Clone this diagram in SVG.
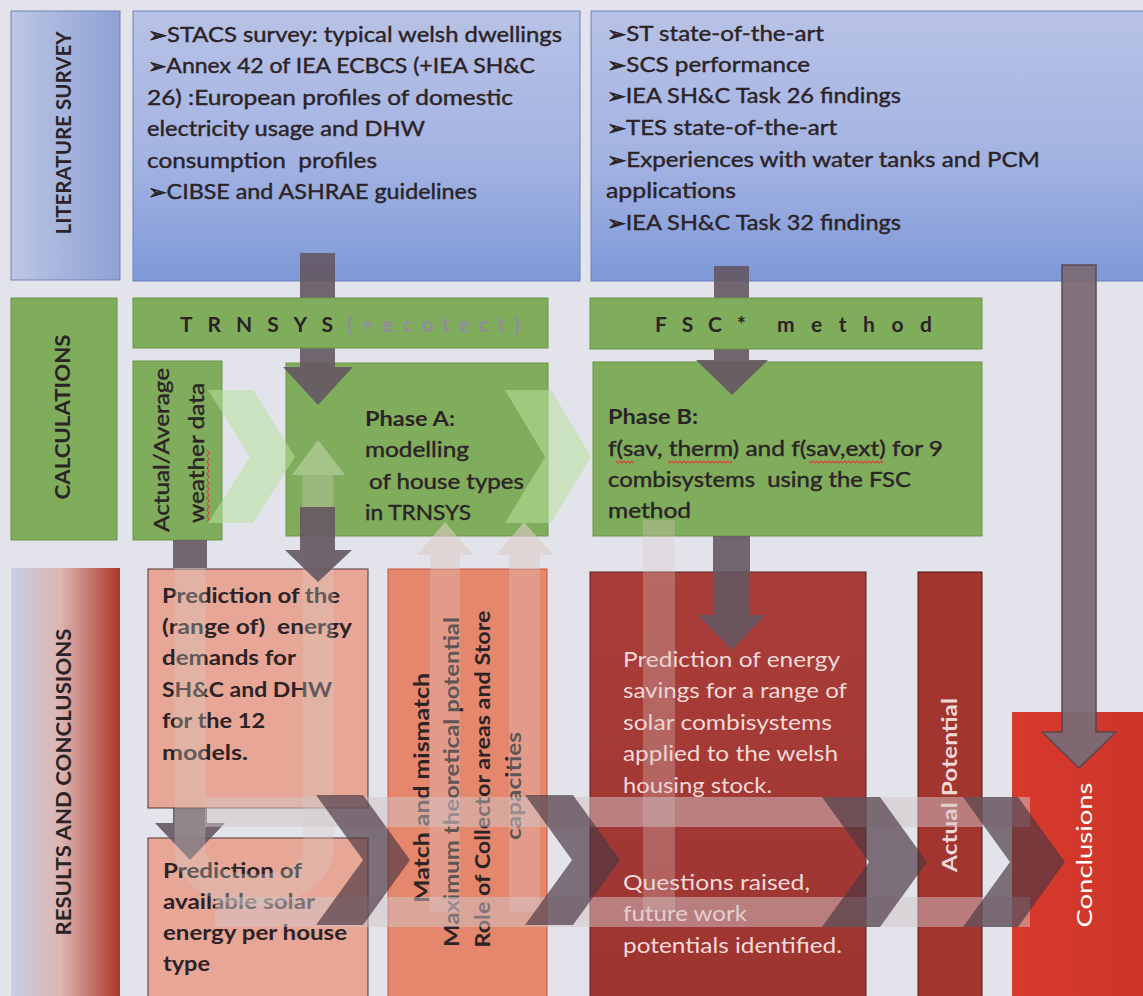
<svg xmlns="http://www.w3.org/2000/svg" width="1143" height="996" viewBox="0 0 1143 996">
<defs>
  <linearGradient id="gLitLabel" x1="0" y1="0" x2="1" y2="0">
    <stop offset="0" stop-color="#bdc6e3"/>
    <stop offset="1" stop-color="#8ea2d6"/>
  </linearGradient>
  <linearGradient id="gLit" x1="0" y1="0" x2="0" y2="1">
    <stop offset="0" stop-color="#b8c2e6"/>
    <stop offset="0.55" stop-color="#a3b3e2"/>
    <stop offset="1" stop-color="#7e99d8"/>
  </linearGradient>
  <linearGradient id="gRes" x1="0" y1="0" x2="1" y2="0">
    <stop offset="0" stop-color="#c8cee8"/>
    <stop offset="0.45" stop-color="#dcb6b2"/>
    <stop offset="1" stop-color="#ad3628"/>
  </linearGradient>
  <linearGradient id="gCol3" x1="0" y1="0" x2="0" y2="1">
    <stop offset="0" stop-color="#a93d3a"/>
    <stop offset="1" stop-color="#9d3430"/>
  </linearGradient>
  <linearGradient id="gConc" x1="0" y1="0" x2="1" y2="0">
    <stop offset="0" stop-color="#d83a2d"/>
    <stop offset="1" stop-color="#cc3529"/>
  </linearGradient>
  <style>
    .t{font-family:Lato,'Liberation Sans','DejaVu Sans',sans-serif;font-size:21px;fill:#2b2326;stroke:#2b2326;stroke-width:0.4}
    .b{font-weight:bold;stroke-width:0}
    .lt{fill:#f3d9d8;stroke:none}
    .ar{font-family:'DejaVu Sans',sans-serif;font-size:20px;font-weight:bold;stroke-width:0.8}
    .lit{fill:url(#gLit);stroke:#6f82b8;stroke-width:1}
    .grn{fill:#80ad5c;stroke:#6a9448;stroke-width:1}
    .pink{fill:#e8a696;stroke:#4e3430;stroke-width:1}
    .dark{fill:#645662;opacity:0.9}
    .pale{fill:#dccbc6;opacity:0.3}
    .band{fill:#d2c6c8;opacity:0.5}
    .chev{fill:#4c3842;opacity:0.68}
    .gchev{fill:#b6e29c;opacity:0.55}
    .squig{fill:none;stroke:#d8443c;stroke-width:1.1}
  </style>
</defs>

<rect width="1143" height="996" fill="#e3e3eb"/>

<!-- ===== Row 1: literature survey ===== -->
<g id="label-literature">
  <rect x="11" y="11" width="109" height="269" fill="url(#gLitLabel)" stroke="#6f82b8"/>
  <text class="t b" font-size="20" text-anchor="middle" textLength="203" lengthAdjust="spacingAndGlyphs" transform="translate(71,133) rotate(-90)">LITERATURE SURVEY</text>
</g>

<g id="lit-dwellings">
  <rect class="lit" x="133" y="11" width="447" height="270"/>
  <text class="t" x="148" y="42" textLength="414" lengthAdjust="spacingAndGlyphs"><tspan class="ar">➢</tspan>STACS survey: typical welsh dwellings</text>
  <text class="t" x="148" y="73" textLength="387" lengthAdjust="spacingAndGlyphs"><tspan class="ar">➢</tspan>Annex 42 of IEA ECBCS (+IEA SH&amp;C</text>
  <text class="t" x="147" y="105" textLength="366" lengthAdjust="spacingAndGlyphs">26) :European profiles of domestic</text>
  <text class="t" x="147" y="136" textLength="278" lengthAdjust="spacingAndGlyphs">electricity usage and DHW</text>
  <text class="t" x="147" y="168" textLength="230" lengthAdjust="spacingAndGlyphs" xml:space="preserve">consumption  profiles</text>
  <text class="t" x="148" y="199" textLength="329" lengthAdjust="spacingAndGlyphs"><tspan class="ar">➢</tspan>CIBSE and ASHRAE guidelines</text>
</g>

<g id="lit-solar">
  <rect class="lit" x="591" y="11" width="560" height="270"/>
  <text class="t" x="607" y="41" textLength="217" lengthAdjust="spacingAndGlyphs"><tspan class="ar">➢</tspan>ST state-of-the-art</text>
  <text class="t" x="607" y="72" textLength="203" lengthAdjust="spacingAndGlyphs"><tspan class="ar">➢</tspan>SCS performance</text>
  <text class="t" x="607" y="103" textLength="294" lengthAdjust="spacingAndGlyphs"><tspan class="ar">➢</tspan>IEA SH&amp;C Task 26 findings</text>
  <text class="t" x="607" y="135" textLength="230" lengthAdjust="spacingAndGlyphs"><tspan class="ar">➢</tspan>TES state-of-the-art</text>
  <text class="t" x="607" y="167" textLength="433" lengthAdjust="spacingAndGlyphs"><tspan class="ar">➢</tspan>Experiences with water tanks and PCM</text>
  <text class="t" x="606" y="198" textLength="130" lengthAdjust="spacingAndGlyphs">applications</text>
  <text class="t" x="607" y="230" textLength="294" lengthAdjust="spacingAndGlyphs"><tspan class="ar">➢</tspan>IEA SH&amp;C Task 32 findings</text>
</g>

<!-- ===== Row 2: calculations ===== -->
<g id="label-calculations">
  <rect class="grn" x="11" y="298" width="106" height="242"/>
  <text class="t b" font-size="20" text-anchor="middle" textLength="165" lengthAdjust="spacingAndGlyphs" transform="translate(70,417) rotate(-90)">CALCULATIONS</text>
</g>

<g id="weather-data">
  <rect class="grn" x="133" y="361" width="89" height="179"/>
  <text class="t" text-anchor="middle" textLength="164" lengthAdjust="spacingAndGlyphs" transform="translate(169,450) rotate(-90)">Actual/Average</text>
  <text class="t" text-anchor="middle" textLength="140" lengthAdjust="spacingAndGlyphs" transform="translate(204,453) rotate(-90)">weather data</text>
  <path class="squig" d="M207,522 l2,-3 l-2,-3 l2,-3 l-2,-3 l2,-3 l-2,-3 l2,-3 l-2,-3 l2,-3 l-2,-3 l2,-3 l-2,-3 l2,-3 l-2,-3 l2,-3 l-2,-3 l2,-3 l-2,-3 l2,-3 l-2,-3 l2,-3 l-2,-3 l2,-3 l-2,-3"/>
</g>

<g id="phase-a">
  <rect class="grn" x="286" y="363" width="262" height="173"/>
  <text class="t b" x="365" y="426" textLength="90" lengthAdjust="spacingAndGlyphs">Phase A:</text>
  <text class="t" x="365" y="457" textLength="104" lengthAdjust="spacingAndGlyphs">modelling</text>
  <text class="t" x="369" y="489" textLength="155" lengthAdjust="spacingAndGlyphs">of house types</text>
  <text class="t" x="365" y="520" textLength="106" lengthAdjust="spacingAndGlyphs">in TRNSYS</text>
</g>

<g id="phase-b">
  <rect class="grn" x="593" y="362" width="389" height="174"/>
  <text class="t b" x="608" y="424" textLength="90" lengthAdjust="spacingAndGlyphs">Phase B:</text>
  <text class="t" x="608" y="456" textLength="335" lengthAdjust="spacingAndGlyphs">f(sav, therm) and f(sav,ext) for 9</text>
  <text class="t" x="608" y="487" textLength="303" lengthAdjust="spacingAndGlyphs" xml:space="preserve">combisystems  using the FSC</text>
  <text class="t" x="608" y="518" textLength="83" lengthAdjust="spacingAndGlyphs">method</text>
  <path class="squig" d="M616,461 l2,2 l2,-2 l2,2 l2,-2 l2,2 l2,-2 l2,2 l2,-2 l2,2 M668,461 l2,2 l2,-2 l2,2 l2,-2 l2,2 l2,-2 l2,2 l2,-2 l2,2 l2,-2 l2,2 l2,-2 l2,2 l2,-2 l2,2 l2,-2 l2,2 l2,-2 l2,2 l2,-2 l2,2 l2,-2 l2,2 l2,-2 l2,2 l2,-2 l2,2 l2,-2 l2,2 l2,-2 l2,2 l2,-2 M809,461 l2,2 l2,-2 l2,2 l2,-2 l2,2 l2,-2 l2,2 l2,-2 l2,2 l2,-2 l2,2 l2,-2 l2,2 l2,-2 l2,2 l2,-2 l2,2 l2,-2 l2,2 l2,-2 l2,2 l2,-2 l2,2 l2,-2 l2,2 l2,-2 l2,2 l2,-2 l2,2 l2,-2 l2,2 l2,-2 l2,2 l2,-2 l2,2 l2,-2 l2,2"/>
</g>

<!-- ===== Row 3: results and conclusions ===== -->
<g id="label-results">
  <rect x="11" y="568" width="109" height="440" fill="url(#gRes)"/>
  <text class="t b" font-size="20" text-anchor="middle" textLength="307" lengthAdjust="spacingAndGlyphs" transform="translate(71,782) rotate(-90)">RESULTS AND CONCLUSIONS</text>
</g>

<g id="solar-energy">
  <rect class="pink" x="148" y="838" width="220" height="170"/>
  <text class="t b" x="163" y="878" textLength="139" lengthAdjust="spacingAndGlyphs">Prediction of</text>
  <text class="t b" x="163" y="909" textLength="152" lengthAdjust="spacingAndGlyphs">available solar</text>
  <text class="t b" x="163" y="940" textLength="184" lengthAdjust="spacingAndGlyphs">energy per house</text>
  <text class="t b" x="163" y="971" textLength="47" lengthAdjust="spacingAndGlyphs">type</text>
</g>

<g id="match-mismatch">
  <rect x="388" y="569" width="159" height="440" fill="#e5876d" stroke="#c8503c" stroke-width="1"/>
  <g class="t b" text-anchor="middle">
    <text textLength="230" lengthAdjust="spacingAndGlyphs" transform="translate(429,788) rotate(-90)">Match and mismatch</text>
    <text textLength="330" lengthAdjust="spacingAndGlyphs" transform="translate(459,782) rotate(-90)">Maximum theoretical potential</text>
    <text textLength="337" lengthAdjust="spacingAndGlyphs" transform="translate(490,779) rotate(-90)">Role of Collector areas and Store</text>
    <text textLength="108" lengthAdjust="spacingAndGlyphs" transform="translate(521,786) rotate(-90)">capacities</text>
  </g>
</g>

<g id="energy-savings">
  <rect x="590" y="572" width="276" height="436" fill="url(#gCol3)" stroke="#5a2420" stroke-width="1"/>
  <text class="t lt" x="623" y="667" textLength="217" lengthAdjust="spacingAndGlyphs">Prediction of energy</text>
  <text class="t lt" x="623" y="698" textLength="224" lengthAdjust="spacingAndGlyphs">savings for a range of</text>
  <text class="t lt" x="623" y="730" textLength="209" lengthAdjust="spacingAndGlyphs">solar combisystems</text>
  <text class="t lt" x="623" y="761" textLength="215" lengthAdjust="spacingAndGlyphs">applied to the welsh</text>
  <text class="t lt" x="623" y="793" textLength="149" lengthAdjust="spacingAndGlyphs">housing stock.</text>
  <text class="t lt" x="623" y="890" textLength="187" lengthAdjust="spacingAndGlyphs">Questions raised,</text>
  <text class="t lt" x="623" y="921" textLength="124" lengthAdjust="spacingAndGlyphs">future work</text>
  <text class="t lt" x="623" y="953" textLength="219" lengthAdjust="spacingAndGlyphs">potentials identified.</text>
</g>

<g id="actual-potential">
  <rect x="918" y="572" width="64" height="436" fill="#a2352e" stroke="#4a1a18" stroke-width="1"/>
  <text class="t b" style="fill:#f1d8d8" text-anchor="middle" textLength="174" lengthAdjust="spacingAndGlyphs" transform="translate(957,785) rotate(-90)">Actual Potential</text>
</g>

<g id="conclusions">
  <rect x="1012" y="712" width="140" height="296" fill="url(#gConc)"/>
  <text class="t" font-size="26" style="fill:#ffffff;stroke:none" text-anchor="middle" textLength="145" lengthAdjust="spacingAndGlyphs" transform="translate(1092,855) rotate(-90)">Conclusions</text>
</g>

<!-- connectors: flow bands, chevrons and block arrows -->
<g id="connectors">
  <!-- weather data into the solar-energy box (shaft runs behind the demands box) -->
  <rect class="dark" x="173" y="540" width="34" height="28"/>
  <path class="dark" d="M173,808 H207 V823 H225 L190,860 L155,823 H173 Z"/>
</g>

<g id="energy-demands">
  <rect class="pink" x="148" y="569" width="220" height="239"/>
  <text class="t b" x="162" y="603" textLength="178" lengthAdjust="spacingAndGlyphs">Prediction of the</text>
  <text class="t b" x="162" y="634" textLength="190" lengthAdjust="spacingAndGlyphs" xml:space="preserve">(range of)  energy</text>
  <text class="t b" x="162" y="665" textLength="134" lengthAdjust="spacingAndGlyphs">demands for</text>
  <text class="t b" x="162" y="697" textLength="170" lengthAdjust="spacingAndGlyphs">SH&amp;C and DHW</text>
  <text class="t b" x="162" y="728" textLength="103" lengthAdjust="spacingAndGlyphs">for the 12</text>
  <text class="t b" x="162" y="760" textLength="86" lengthAdjust="spacingAndGlyphs">models.</text>
</g>

<g id="connectors-flow">
  <!-- pale U-turn loop from weather data back up into Phase A -->
  <path d="M190,568 V850 A64,40 0 0 0 318,850 V475" fill="none" stroke="#d8ccc8" stroke-width="31" opacity="0.32"/>
  <polygon points="292,475 345,475 318,440" fill="#e8f0e0" opacity="0.35"/>

  <!-- pale return arrows from the match/mismatch study and savings -->
  <rect class="pale" x="430" y="569" width="30" height="343"/>
  <rect x="430" y="555" width="30" height="14" fill="#dccbc6" opacity="0.6"/>
  <polygon points="417,555 473,555 445,522" fill="#dccbc6" opacity="0.6"/>
  <rect class="pale" x="509" y="569" width="31" height="343"/>
  <rect x="509" y="555" width="31" height="14" fill="#dccbc6" opacity="0.6"/>
  <polygon points="496,555 553,555 524,522" fill="#dccbc6" opacity="0.6"/>
  <rect class="pale" x="643" y="520" width="32" height="392"/>

  <!-- horizontal flow bands -->
  <rect class="band" x="205" y="797" width="825" height="30"/>
  <rect class="band" x="215" y="897" width="815" height="30"/>

  <!-- dark chevrons along the results row -->
  <polygon class="chev" points="316,795 363,795 410,860 363,925 316,925 363,860"/>
  <polygon class="chev" points="525,795 573,795 620,860 573,925 525,925 572,860"/>
  <polygon class="chev" points="822,797 880,797 927,862 880,927 822,927 869,862"/>
  <polygon class="chev" points="963,797 1018,797 1065,862 1018,927 963,927 1010,862"/>

  <!-- green chevrons along the calculations row -->
  <polygon class="gchev" points="208,390 253,390 295,457 253,523 208,523 250,457"/>
  <polygon class="gchev" points="505,390 551,390 591,457 551,523 505,523 545,457"/>

  <!-- literature survey into Phase A (passes behind the TRNSYS bar) -->
  <rect class="dark" x="300" y="253" width="35" height="46"/>
  <path class="dark" d="M300,348 H335 V367 H353 L318,405 L283,367 H300 Z"/>
  <!-- literature survey into Phase B (passes behind the FSC bar) -->
  <rect class="dark" x="714" y="266" width="35" height="33"/>
  <path class="dark" d="M714,349 H749 V360 H768 L732,395 L696,360 H714 Z"/>
  <!-- Phase A into energy demands -->
  <path class="dark" d="M300,507 H335 V550 H352 L318,582 L285,550 H300 Z"/>
  <!-- Phase B into energy savings -->
  <path class="dark" d="M713,536 H750 V615 H765 L732,650 L698,615 H713 Z"/>
  <!-- literature survey straight down to the conclusions -->
  <path d="M1062,265 H1096 V732 H1116 L1079,768 L1042,732 H1062 Z" fill="#7b6b75" stroke="#564651" stroke-width="1.5" opacity="0.95"/>
</g>

<g id="tool-trnsys">
  <rect class="grn" x="133" y="298" width="415" height="50"/>
  <text class="t b" x="180" y="332" font-size="23" textLength="153" lengthAdjust="spacing">TRNSYS</text>
  <text class="t b" x="347" y="332" font-size="23" style="fill:#918ca0" textLength="173" lengthAdjust="spacing">(+ecotect)</text>
</g>

<g id="tool-fsc">
  <rect class="grn" x="590" y="298" width="392" height="51"/>
  <text class="t b" x="655" y="332" font-size="23" textLength="91" lengthAdjust="spacing">FSC*</text>
  <text class="t b" x="777" y="332" font-size="23" textLength="155" lengthAdjust="spacing">method</text>
</g>
</svg>
